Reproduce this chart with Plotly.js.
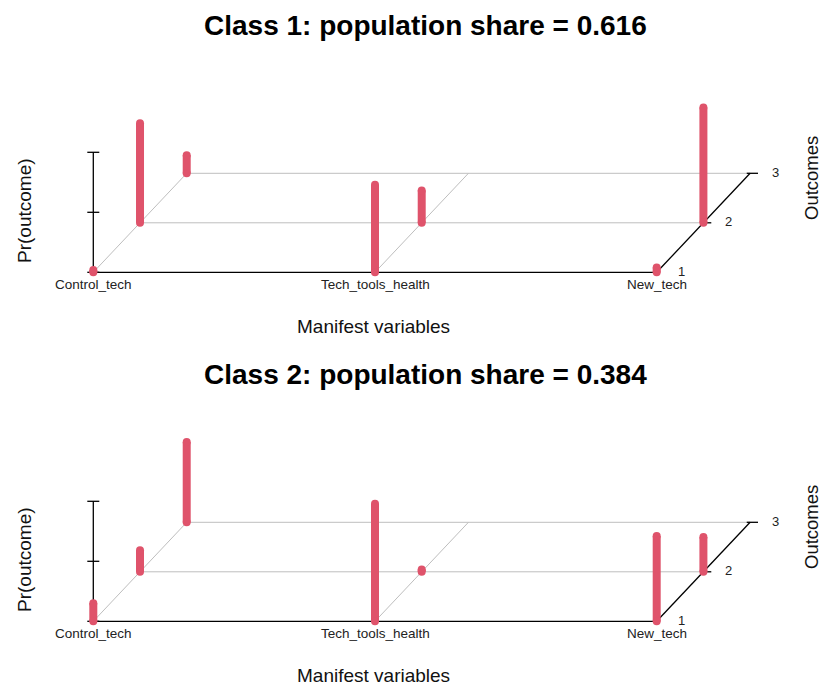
<!DOCTYPE html>
<html><head><meta charset="utf-8">
<script src="https://cdn.plot.ly/plotly-3.0.1.min.js"></script>
<style>html,body{margin:0;padding:0;background:#fff}</style>
</head><body><div id="chart" style="width:821px;height:686px"></div>
<script>
// ---- data ----
const variables = ["Control_tech", "Tech_tools_health", "New_tech"];
const outcomes = ["1", "2", "3"];
const classLabels = ["Class 1", "Class 2"];
const shares = [0.616, 0.384];
// Pr(outcome) per variable (Control_tech, Tech_tools_health, New_tech)
const class1_outcome1 = [0.02, 0.73, 0.04];
const class1_outcome2 = [0.83, 0.27, 0.96];
const class1_outcome3 = [0.15, 0.00, 0.00];
const class2_outcome1 = [0.15, 0.98, 0.71];
const class2_outcome2 = [0.18, 0.02, 0.29];
const class2_outcome3 = [0.67, 0.00, 0.00];
const classProbs = [
  [class1_outcome1, class1_outcome2, class1_outcome3],
  [class2_outcome1, class2_outcome2, class2_outcome3]
];
const zTicks = [0, 0.5, 1];

// ---- projection (oblique, like scatterplot3d) ----
const DX = 0.1658, DY = 0.4125;
const BAR = '#DF536B', GRID = '#BEBEBE', FONT = 'Liberation Sans, Arial, sans-serif';
const X = (vi, oi) => (vi + 1) + DX * oi;
const Y = (oi, p) => p + DY * oi;

const traces = [];
const annotations = [];
const nV = variables.length, nO = outcomes.length;

classProbs.forEach((probs, c) => {
  const xa = c === 0 ? 'x' : 'x2', ya = c === 0 ? 'y' : 'y2';
  // grid
  const gx = [], gy = [];
  for (let oi = 1; oi < nO; oi++) { gx.push(X(0, oi), X(nV - 1, oi), null); gy.push(Y(oi, 0), Y(oi, 0), null); }
  for (let vi = 0; vi < nV - 1; vi++) { gx.push(X(vi, 0), X(vi, nO - 1), null); gy.push(Y(0, 0), Y(nO - 1, 0), null); }
  traces.push({x: gx, y: gy, xaxis: xa, yaxis: ya, mode: 'lines', line: {color: GRID, width: 1}, hoverinfo: 'skip'});
  // axes
  const ax = [], ay = [];
  ax.push(X(0, 0), X(nV - 1, 0), null); ay.push(Y(0, 0), Y(0, 0), null);
  ax.push(X(nV - 1, 0), X(nV - 1, nO - 1), null); ay.push(Y(0, 0), Y(nO - 1, 0), null);
  ax.push(X(0, 0), X(0, 0), null); ay.push(Y(0, zTicks[0]), Y(0, zTicks[zTicks.length - 1]), null);
  zTicks.forEach(t => { ax.push(X(0, 0) - 0.0213, X(0, 0) + 0.0213, null); ay.push(t, t, null); });
  for (let oi = 1; oi < nO; oi++) { ax.push(X(nV - 1, oi) - 0.012, X(nV - 1, oi) + 0.028, null); ay.push(Y(oi, 0), Y(oi, 0), null); }
  traces.push({x: ax, y: ay, xaxis: xa, yaxis: ya, mode: 'lines', line: {color: '#000', width: 1.3}, hoverinfo: 'skip'});
  // bars
  const bx = [], by = [], mx = [], my = [];
  for (let oi = 0; oi < nO; oi++) {
    for (let vi = 0; vi < nV; vi++) {
      const p = probs[oi][vi];
      if (!(p > 0)) continue;
      bx.push(X(vi, oi), X(vi, oi), null); by.push(Y(oi, 0), Y(oi, p), null);
      mx.push(X(vi, oi), X(vi, oi)); my.push(Y(oi, 0), Y(oi, p));
    }
  }
  traces.push({x: bx, y: by, xaxis: xa, yaxis: ya, mode: 'lines', line: {color: BAR, width: 8}, hoverinfo: 'skip'});
  traces.push({x: mx, y: my, xaxis: xa, yaxis: ya, mode: 'markers', marker: {color: BAR, size: 8, line: {width: 0}}, hoverinfo: 'skip'});
  // tick labels
  variables.forEach((v, vi) => annotations.push({xref: xa, yref: ya, x: X(vi, 0), y: -0.1, text: v, showarrow: false,
    xanchor: 'center', yanchor: 'middle', font: {family: FONT, size: 13.5, color: '#222'}}));
  outcomes.forEach((o, oi) => annotations.push({xref: xa, yref: ya, x: X(nV - 1, oi) + 0.0887, y: Y(oi, 0) + 0.01, text: o, showarrow: false,
    xanchor: 'center', yanchor: 'middle', font: {family: FONT, size: 13, color: '#222'}}));
  // titles
  const off = c * 349 / 686;
  annotations.push({xref: 'paper', yref: 'paper', x: 0.5177, y: 1 - 25 / 686 - off,
    text: '<b>' + classLabels[c] + ': population share = ' + shares[c] + '</b>', showarrow: false,
    xanchor: 'center', yanchor: 'middle', font: {family: FONT, size: 28, color: '#000'}});
  annotations.push({xref: 'paper', yref: 'paper', x: 373 / 821, y: 1 - 326 / 686 - off, text: 'Manifest variables', showarrow: false,
    xanchor: 'center', yanchor: 'middle', font: {family: FONT, size: 19, color: '#111'}});
  annotations.push({xref: 'paper', yref: 'paper', x: 25 / 821, y: 1 - 211 / 686 - off, text: 'Pr(outcome)', showarrow: false,
    textangle: -90, xanchor: 'center', yanchor: 'middle', font: {family: FONT, size: 19, color: '#111'}});
  annotations.push({xref: 'paper', yref: 'paper', x: 811 / 821, y: 1 - 178 / 686 - off, text: 'Outcomes', showarrow: false,
    textangle: -90, xanchor: 'center', yanchor: 'middle', font: {family: FONT, size: 18.5, color: '#111'}});
});

const hid = {showgrid: false, zeroline: false, showticklabels: false, showline: false, ticks: '', fixedrange: true};
const xr = [1 - 93.3 / 281.7, 1 - 93.3 / 281.7 + 821 / 281.7];
const layout = {
  width: 821, height: 686, margin: {l: 0, r: 0, t: 0, b: 0},
  paper_bgcolor: '#fff', plot_bgcolor: '#fff', showlegend: false, hovermode: false,
  xaxis: Object.assign({}, hid, {domain: [0, 1], range: xr, anchor: 'y'}),
  yaxis: Object.assign({}, hid, {domain: [0.5, 1], range: [(272.3 - 343) / 120, 272.3 / 120], anchor: 'x'}),
  xaxis2: Object.assign({}, hid, {domain: [0, 1], range: xr, anchor: 'y2'}),
  yaxis2: Object.assign({}, hid, {domain: [0, 0.5], range: [(278.3 - 343) / 120, 278.3 / 120], anchor: 'x2'}),
  annotations: annotations
};
Plotly.newPlot('chart', traces, layout, {displayModeBar: false, staticPlot: true});
</script></body></html>
